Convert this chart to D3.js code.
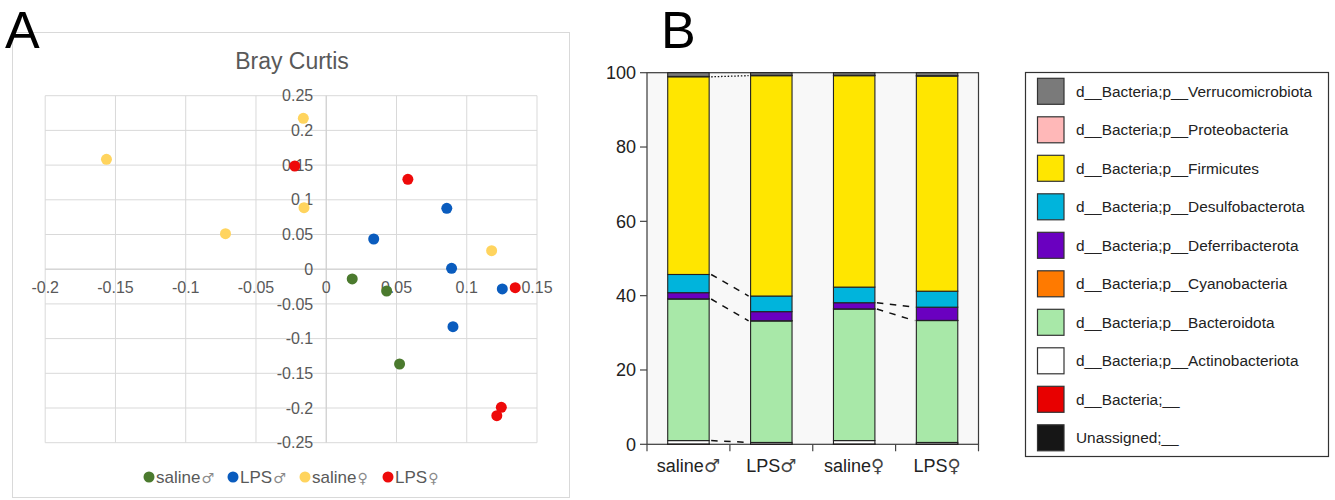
<!DOCTYPE html>
<html><head><meta charset="utf-8">
<script src="https://cdn.jsdelivr.net/npm/d3@7"></script>
<style>body{margin:0;background:#fff;}svg{display:block;font-family:Arial,"Liberation Sans",sans-serif;}</style>
</head><body><svg id="c" width="1335" height="500"></svg>
<script>
// ---------- Panel A data (Bray Curtis PCoA) ----------
const groupsA = ["saline♂", "LPS♂", "saline♀", "LPS♀"];
const colorsA = ["#4b7a2e", "#0a5cbe", "#ffd45e", "#ee0a0a"];
const salineMaleX = [0.0185, 0.0430, 0.0522];
const salineMaleY = [-0.0141, -0.0314, -0.1366];
const lpsMaleX = [0.0858, 0.0338, 0.0892, 0.1253, 0.0902];
const lpsMaleY = [0.0877, 0.0435, 0.0013, -0.0285, -0.0829];
const salineFemaleX = [-0.0163, -0.1564, -0.0158, -0.0717, 0.1177];
const salineFemaleY = [0.2174, 0.1584, 0.0886, 0.0512, 0.0267];
const lpsFemaleX = [-0.0224, 0.0581, 0.1345, 0.1246, 0.1214];
const lpsFemaleY = [0.1487, 0.1295, -0.0266, -0.1990, -0.2110];
const xTicksA = [-0.2, -0.15, -0.1, -0.05, 0, 0.05, 0.1, 0.15];
const yTicksA = [0.25, 0.2, 0.15, 0.1, 0.05, 0, -0.05, -0.1, -0.15, -0.2, -0.25];

// ---------- Panel B data (relative abundance, %) ----------
const groupsB = ["saline♂", "LPS♂", "saline♀", "LPS♀"];
const taxa = ["Unassigned;__", "d__Bacteria;__", "d__Bacteria;p__Actinobacteriota",
  "d__Bacteria;p__Bacteroidota", "d__Bacteria;p__Cyanobacteria", "d__Bacteria;p__Deferribacterota",
  "d__Bacteria;p__Desulfobacterota", "d__Bacteria;p__Firmicutes", "d__Bacteria;p__Proteobacteria",
  "d__Bacteria;p__Verrucomicrobiota"];
const taxaColors = ["#161616", "#e80000", "#ffffff", "#a8e8a8", "#ff7a00", "#6a00c0",
  "#00b4dc", "#ffe600", "#ffb8b8", "#7a7a7a"];
const unassigned      = [0.05, 0.05, 0.05, 0.05];
const bacteriaUnknown = [0.05, 0.05, 0.05, 0.05];
const actinobacteriota = [0.9, 0.4, 0.9, 0.4];
const bacteroidota    = [38.1, 32.7, 35.4, 32.8];
const cyanobacteria   = [0.05, 0.05, 0.05, 0.05];
const deferribacterota = [1.65, 2.45, 1.65, 3.55];
const desulfobacterota = [4.9, 4.2, 4.2, 4.3];
const firmicutes      = [53.2, 59.3, 56.9, 57.9];
const proteobacteria  = [0.1, 0.1, 0.1, 0.1];
const verrucomicrobiota = [1.0, 0.7, 0.7, 0.8];
const yTicksB = [0, 20, 40, 60, 80, 100];
const taxaValues = [unassigned, bacteriaUnknown, actinobacteriota, bacteroidota, cyanobacteria,
  deferribacterota, desulfobacterota, firmicutes, proteobacteria, verrucomicrobiota];

const svg = d3.select("#c");
const SYM_FONT = "'DejaVu Sans', 'Noto Sans', sans-serif";

// ================= Panel A =================
svg.append("rect").attr("x", 12.5).attr("y", 32.5).attr("width", 557).attr("height", 465)
  .attr("fill", "#fff").attr("stroke", "#d9d9d9");
svg.append("text").attr("x", 5).attr("y", 48).attr("font-size", 52).attr("fill", "#000").text("A");
svg.append("text").attr("x", 292).attr("y", 69).attr("text-anchor", "middle")
  .attr("font-size", 23).attr("fill", "#595959").text("Bray Curtis");

const xA = d3.scaleLinear().domain([-0.2, 0.15]).range([45.2, 537]);
const yA = d3.scaleLinear().domain([-0.25, 0.25]).range([442.7, 95.7]);
const gA = svg.append("g");
gA.selectAll("line.v").data(xTicksA).join("line")
  .attr("x1", d => xA(d)).attr("x2", d => xA(d)).attr("y1", yA(0.25)).attr("y2", yA(-0.25))
  .attr("stroke", "#d9d9d9").attr("stroke-width", 1);
gA.selectAll("line.h").data(yTicksA).join("line")
  .attr("x1", xA(-0.2)).attr("x2", xA(0.15)).attr("y1", d => yA(d)).attr("y2", d => yA(d))
  .attr("stroke", "#d9d9d9").attr("stroke-width", 1);
gA.append("line").attr("x1", xA(0)).attr("x2", xA(0)).attr("y1", yA(0.25)).attr("y2", yA(-0.25)).attr("stroke", "#cfcfcf");
gA.append("line").attr("x1", xA(-0.2)).attr("x2", xA(0.15)).attr("y1", yA(0)).attr("y2", yA(0)).attr("stroke", "#cfcfcf");
const fmt = d => String(d);
gA.selectAll("text.yl").data(yTicksA).join("text")
  .attr("x", xA(0) - 13).attr("y", d => yA(d)).attr("dy", "0.35em").attr("text-anchor", "end")
  .attr("font-size", 16).attr("fill", "#595959").text(fmt);
gA.selectAll("text.xl").data(xTicksA).join("text")
  .attr("x", d => xA(d)).attr("y", yA(0) + 18).attr("dy", "0.35em").attr("text-anchor", "middle")
  .attr("font-size", 16).attr("fill", "#595959").text(fmt);

const seriesA = [
  {xs: salineMaleX, ys: salineMaleY},
  {xs: lpsMaleX, ys: lpsMaleY},
  {xs: salineFemaleX, ys: salineFemaleY},
  {xs: lpsFemaleX, ys: lpsFemaleY}
];
seriesA.forEach((s, i) => {
  gA.selectAll(null).data(s.xs.map((x, j) => [x, s.ys[j]])).join("circle")
    .attr("cx", d => xA(d[0])).attr("cy", d => yA(d[1])).attr("r", 5.5).attr("fill", colorsA[i]);
});
// legend A
const legAx = [149, 233, 305, 388];
const legA = svg.append("g");
groupsA.forEach((g, i) => {
  legA.append("circle").attr("cx", legAx[i]).attr("cy", 477).attr("r", 5.5).attr("fill", colorsA[i]);
  const t = legA.append("text").attr("x", legAx[i] + 7).attr("y", 483).attr("font-size", 17).attr("fill", "#595959");
  t.append("tspan").text(g.slice(0, -1));
  t.append("tspan").attr("font-family", SYM_FONT).attr("font-size", 14).attr("fill", "#8a8a8a").attr("dx", 1).text(g.slice(-1));
});

// ================= Panel B =================
svg.append("text").attr("x", 661).attr("y", 48).attr("font-size", 52).attr("fill", "#000").text("B");
const xB = d3.scaleBand().domain(groupsB).range([647, 978.5]).paddingInner(0.5).paddingOuter(0.25);
const yB = d3.scaleLinear().domain([0, 100]).range([444.3, 72.7]);
svg.append("rect").attr("x", 647).attr("y", yB(100)).attr("width", 331.5).attr("height", yB(0) - yB(100))
  .attr("fill", "#f8f8f8").attr("stroke", "#3a3a3a").attr("stroke-width", 1.2);

const table = groupsB.map((g, i) => {
  const o = {group: g};
  taxa.forEach((t, k) => o[t] = taxaValues[k][i]);
  return o;
});
const stack = d3.stack().keys(taxa)(table);
const gB = svg.append("g");
stack.forEach((layer, k) => {
  gB.selectAll(null).data(layer).join("rect")
    .attr("x", d => xB(d.data.group)).attr("width", xB.bandwidth())
    .attr("y", d => yB(d[1])).attr("height", d => yB(d[0]) - yB(d[1]))
    .attr("fill", taxaColors[k]).attr("stroke", "#222").attr("stroke-width", 1.1);
});
// connector lines
function topOf(taxon, gi) { const L = stack[taxa.indexOf(taxon)]; return L[gi][1]; }
const dashedMale = ["d__Bacteria;p__Desulfobacterota", "d__Bacteria;p__Bacteroidota", "d__Bacteria;p__Actinobacteriota"];
const dashedFemale = ["d__Bacteria;p__Deferribacterota", "d__Bacteria;p__Bacteroidota"];
const dottedMale = ["d__Bacteria;p__Firmicutes"];
function connect(list, a, b, dash, w) {
  list.forEach(t => {
    gB.append("line")
      .attr("x1", xB(groupsB[a]) + xB.bandwidth() + 2).attr("y1", yB(topOf(t, a)))
      .attr("x2", xB(groupsB[b]) - 2).attr("y2", yB(topOf(t, b)))
      .attr("stroke", "#111").attr("stroke-width", w).attr("stroke-dasharray", dash);
  });
}
connect(dashedMale, 0, 1, "6.5,6.5", 1.5);
connect(dashedFemale, 2, 3, "6.5,6.5", 1.5);
connect(dottedMale, 0, 1, "1.5,1.8", 1.3);

// axes B
const tickX = [647, 729.9, 812.75, 895.6, 978.5];
gB.selectAll("line.bt").data(tickX).join("line")
  .attr("x1", d => d).attr("x2", d => d).attr("y1", yB(0)).attr("y2", yB(0) + 7)
  .attr("stroke", "#444").attr("stroke-width", 1.2);
gB.selectAll("line.lt").data(yTicksB).join("line")
  .attr("x1", 640).attr("x2", 647).attr("y1", d => yB(d)).attr("y2", d => yB(d))
  .attr("stroke", "#444").attr("stroke-width", 1.2);
gB.selectAll("text.yl").data(yTicksB).join("text")
  .attr("x", 636).attr("y", d => yB(d)).attr("dy", "0.35em").attr("text-anchor", "end")
  .attr("font-size", 18).attr("fill", "#222").text(d => d);
const xl = gB.selectAll("text.xl").data(groupsB).join("text")
  .attr("x", d => xB(d) + xB.bandwidth() / 2).attr("y", 472).attr("text-anchor", "middle")
  .attr("font-size", 18).attr("fill", "#222");
xl.append("tspan").text(d => d.slice(0, -1));
xl.append("tspan").attr("font-family", SYM_FONT).attr("font-size", 18).attr("fill", "#444").text(d => d.slice(-1));

// legend B
const legB = svg.append("g");
legB.append("rect").attr("x", 1025.5).attr("y", 72.5).attr("width", 303).attr("height", 384)
  .attr("fill", "#fff").attr("stroke", "#333").attr("stroke-width", 1.2);
const legendOrder = taxa.slice().reverse();
const legendColors = taxaColors.slice().reverse();
legendOrder.forEach((t, i) => {
  const cy = 91.3 + i * 38.5;
  legB.append("rect").attr("x", 1037.5).attr("y", cy - 13).attr("width", 26.5).attr("height", 26)
    .attr("fill", legendColors[i]).attr("stroke", "#333").attr("stroke-width", 1.2);
  legB.append("text").attr("x", 1076).attr("y", cy).attr("dy", "0.35em")
    .attr("font-size", 15.4).attr("fill", "#222").text(t);
});
</script></body></html>
